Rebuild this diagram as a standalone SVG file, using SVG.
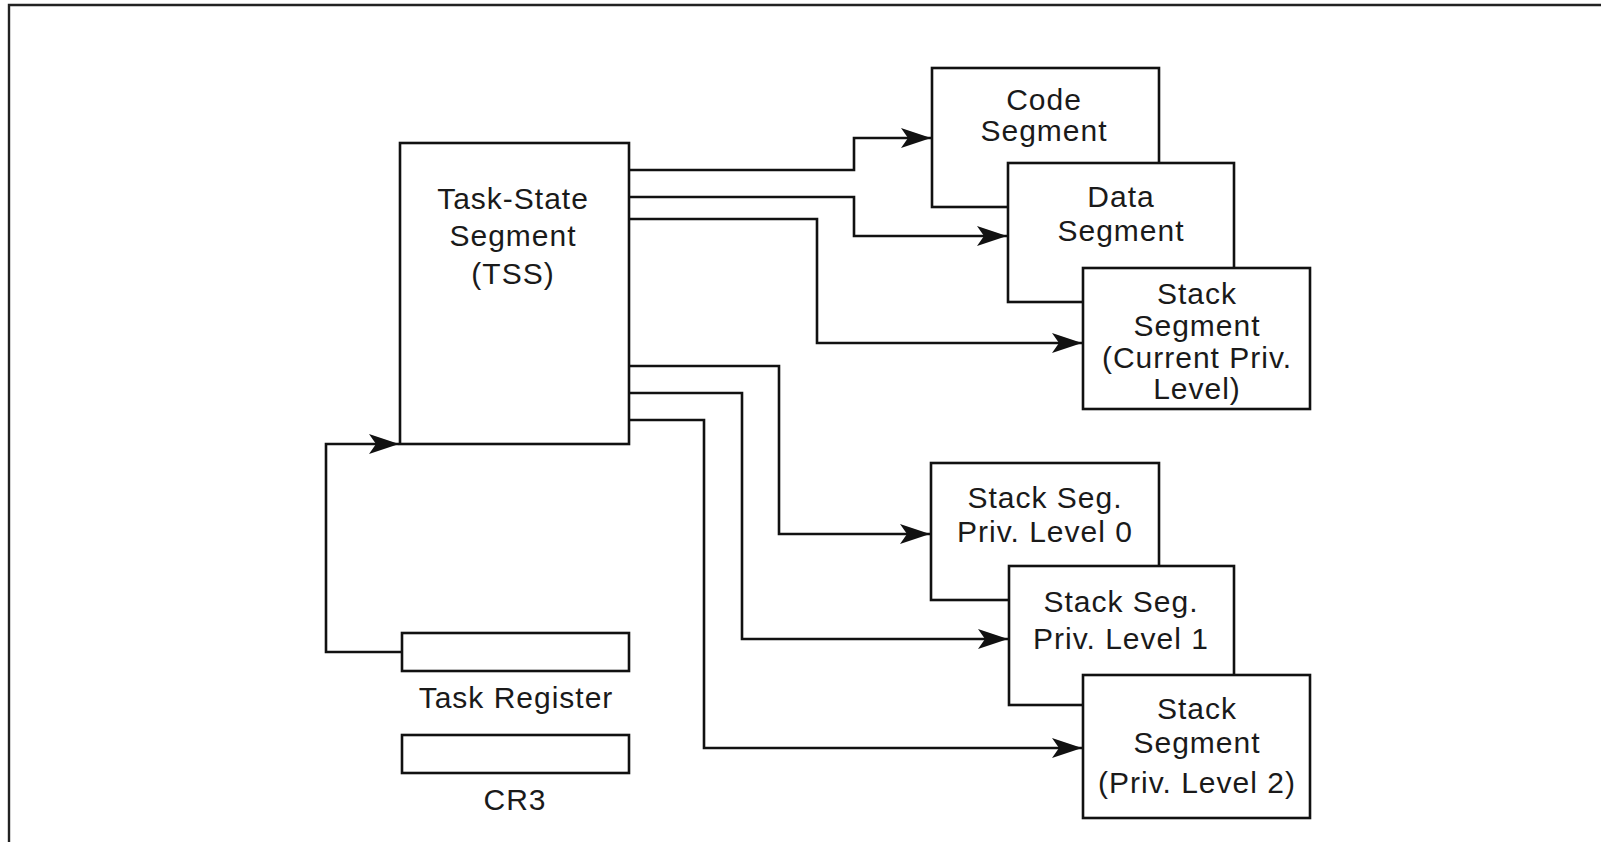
<svg xmlns="http://www.w3.org/2000/svg" width="1601" height="842" viewBox="0 0 1601 842">
<style>
  .box { fill: #ffffff; stroke: #111111; stroke-width: 2.6; }
  .wire { fill: none; stroke: #111111; stroke-width: 2.6; }
  .frame { fill: none; stroke: #222222; stroke-width: 2.4; }
  text { font-family: "Liberation Sans", Arial, sans-serif; font-size: 30px; letter-spacing: 1px; fill: #1a1a1a; text-anchor: middle; }
</style>
<defs>
  <marker id="arrow" markerUnits="userSpaceOnUse" markerWidth="34" markerHeight="24" refX="32" refY="12" orient="auto">
    <path d="M32,12 L2,2 L9,12 L2,22 Z" fill="#111111"/>
  </marker>
</defs>
<rect width="1601" height="842" fill="#ffffff"/>
<path class="frame" d="M9,842 L9,5 L1601,5"/>

<g id="connectors">
  <path class="wire" d="M629,170 L854,170 L854,138 L931,138" marker-end="url(#arrow)"/>
  <path class="wire" d="M629,197 L854,197 L854,236 L1007,236" marker-end="url(#arrow)"/>
  <path class="wire" d="M629,219 L817,219 L817,343 L1082,343" marker-end="url(#arrow)"/>
  <path class="wire" d="M629,366 L779,366 L779,534 L930,534" marker-end="url(#arrow)"/>
  <path class="wire" d="M629,393 L742,393 L742,639 L1008,639" marker-end="url(#arrow)"/>
  <path class="wire" d="M629,420 L704,420 L704,748 L1082,748" marker-end="url(#arrow)"/>
  <path class="wire" d="M402,652 L326,652 L326,444 L399,444" marker-end="url(#arrow)"/>
</g>

<g id="tss">
  <rect class="box" x="400" y="143" width="229" height="301"/>
  <text x="513" y="209">Task-State</text>
  <text x="513" y="246">Segment</text>
  <text x="513" y="284">(TSS)</text>
</g>

<g id="task-register">
  <rect class="box" x="402" y="633" width="227" height="38"/>
  <text x="516" y="708">Task Register</text>
</g>

<g id="cr3">
  <rect class="box" x="402" y="735" width="227" height="38"/>
  <text x="515" y="810">CR3</text>
</g>

<g id="code-segment">
  <rect class="box" x="932" y="68" width="227" height="139"/>
  <text x="1044" y="110">Code</text>
  <text x="1044" y="141">Segment</text>
</g>

<g id="data-segment">
  <rect class="box" x="1008" y="163" width="226" height="139"/>
  <text x="1121" y="207">Data</text>
  <text x="1121" y="241">Segment</text>
</g>

<g id="stack-current">
  <rect class="box" x="1083" y="268" width="227" height="141"/>
  <text x="1197" y="304">Stack</text>
  <text x="1197" y="336">Segment</text>
  <text x="1197" y="368">(Current Priv.</text>
  <text x="1197" y="399">Level)</text>
</g>

<g id="stack-pl0">
  <rect class="box" x="931" y="463" width="228" height="137"/>
  <text x="1045" y="508">Stack Seg.</text>
  <text x="1045" y="542">Priv. Level 0</text>
</g>

<g id="stack-pl1">
  <rect class="box" x="1009" y="566" width="225" height="139"/>
  <text x="1121" y="612">Stack Seg.</text>
  <text x="1121" y="649">Priv. Level 1</text>
</g>

<g id="stack-pl2">
  <rect class="box" x="1083" y="675" width="227" height="143"/>
  <text x="1197" y="719">Stack</text>
  <text x="1197" y="753">Segment</text>
  <text x="1197" y="793">(Priv. Level 2)</text>
</g>
</svg>
